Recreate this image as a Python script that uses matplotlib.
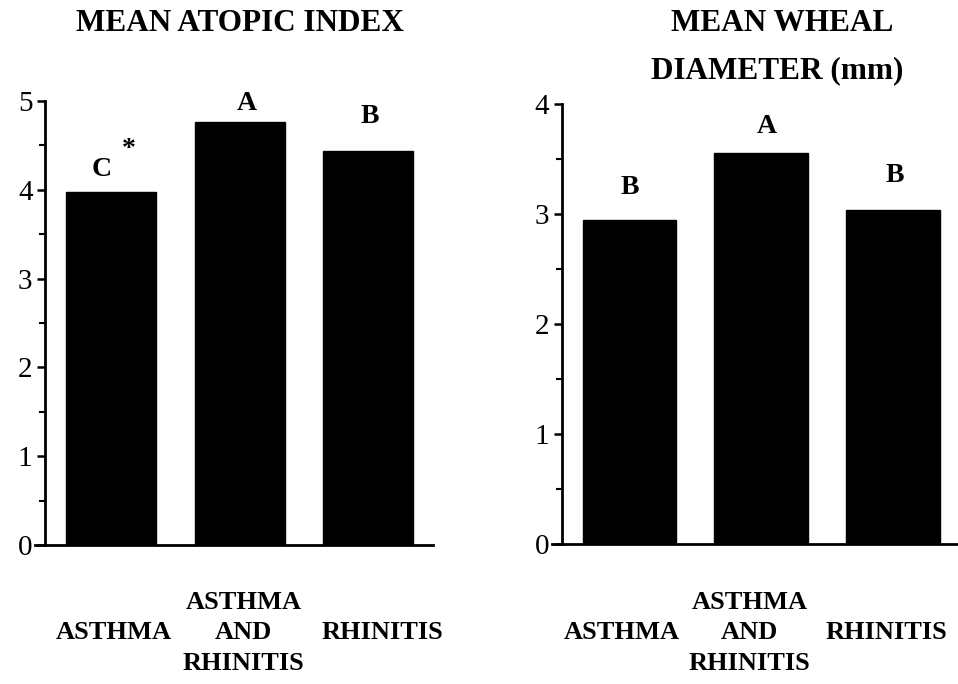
import numpy as np
import matplotlib.pyplot as plt
from matplotlib.ticker import MultipleLocator

plt.rcParams['font.family'] = ['Liberation Serif', 'DejaVu Serif']

groups = ['ASTHMA', 'ASTHMA\nAND\nRHINITIS', 'RHINITIS']
atopic_index = [3.98, 4.77, 4.44]
atopic_letters = ['C', 'A', 'B']
wheal_diameter = [2.95, 3.56, 3.04]
wheal_letters = ['B', 'A', 'B']

fig = plt.figure(figsize=(9.58, 6.84), dpi=100)
ax1 = fig.add_axes([0.047, 0.2032, 0.405, 0.649])
ax2 = fig.add_axes([0.5866, 0.2047, 0.413, 0.643])


def style_axis(ax, vals, letters, ymax, xlim, width, label_x, letter_dx, letter_dy, label_y):
    x = np.arange(len(vals))
    ax.bar(x, vals, width=width, color='black', edgecolor='black')
    ax.set_xlim(*xlim)
    ax.set_ylim(0, ymax)
    ax.set_yticks(range(ymax + 1))
    ax.yaxis.set_minor_locator(MultipleLocator(0.5))
    ax.tick_params(axis='y', which='major', length=6, width=1.8, labelsize=21, pad=3, direction='out')
    ax.tick_params(axis='y', which='minor', length=4, width=1.5, direction='out')
    ax.set_xticks([])
    for s in ['top', 'right']:
        ax.spines[s].set_visible(False)
    ax.spines['left'].set_linewidth(2)
    ax.spines['bottom'].set_linewidth(2)
    # extend the baseline a little past the y axis
    ax.plot([-0.025, 0], [0, 0], transform=ax.get_yaxis_transform(), color='black', lw=2, clip_on=False)
    for xi, v, lab, dx, dy in zip(x, vals, letters, letter_dx, letter_dy):
        ax.annotate(lab, (xi, v), xytext=(dx, dy), textcoords='offset points',
                    ha='center', va='bottom', fontsize=20, fontweight='bold')
    for lx, g in zip(label_x, groups):
        ax.text(lx, label_y, g, transform=ax.get_xaxis_transform(), ha='center', va='center',
                fontsize=19, fontweight='bold', linespacing=1.42)


style_axis(ax1, atopic_index, atopic_letters, 5, (-0.514, 2.506), 0.70,
           [0.02, 1.03, 2.11], [-6.5, 5, 1], [7, 4, 16], -0.198)
style_axis(ax2, wheal_diameter, wheal_letters, 4, (-0.511, 2.49), 0.71,
           [-0.057, 0.913, 1.95], [0, 4, 1], [14, 10, 16], -0.202)

# asterisk next to the asthma letter
ax1.annotate('*', (0, atopic_index[0]), xytext=(13, 30), textcoords='offset points',
             ha='center', va='center', fontsize=20, fontweight='bold')

fig.text(0.2505, 0.966, 'MEAN ATOPIC INDEX', ha='center', va='center', fontsize=22.5, fontweight='bold')
fig.text(0.817, 0.966, 'MEAN WHEAL', ha='center', va='center', fontsize=22.5, fontweight='bold')
fig.text(0.811, 0.897, 'DIAMETER (mm)', ha='center', va='center', fontsize=22.5, fontweight='bold')

fig.savefig('out.png', dpi=100)
